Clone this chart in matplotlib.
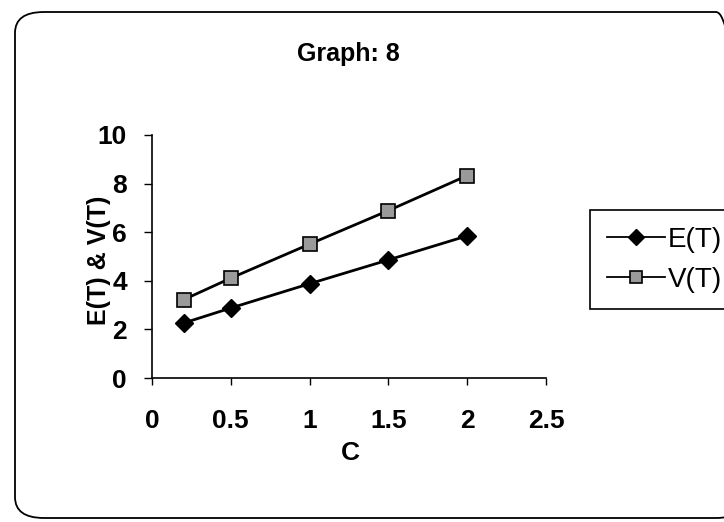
import matplotlib
matplotlib.use("Agg")
import matplotlib.pyplot as plt
from matplotlib.patches import FancyBboxPatch

# values of C and the two curves
C_VALUES = [0.2, 0.5, 1.0, 1.5, 2.0]
E_T = [2.26, 2.88, 3.88, 4.86, 5.85]
V_T = [3.22, 4.11, 5.51, 6.89, 8.33]

X_TICKS = [0, 0.5, 1, 1.5, 2, 2.5]
X_TICK_LABELS = ["0", "0.5", "1", "1.5", "2", "2.5"]
Y_TICKS = [0, 2, 4, 6, 8, 10]

plt.rcParams.update({
    "font.family": ["Liberation Sans", "DejaVu Sans"],
    "font.size": 13,
    "axes.linewidth": 1.2,
    "xtick.major.width": 1.0,
    "ytick.major.width": 1.0,
    "xtick.major.size": 5,
    "ytick.major.size": 6,
})


def draw():
    fig = plt.figure(figsize=(7.24, 5.22), dpi=100)

    # chart-area border with rounded corners
    border = FancyBboxPatch((15 / 724, 4 / 522), 730 / 724, 506 / 522,
                            boxstyle="round,pad=0,rounding_size=0.04",
                            transform=fig.transFigure, fill=False,
                            edgecolor="black", linewidth=1.3, clip_on=False)
    fig.patches.append(border)

    ax = fig.add_axes([152 / 724, (522 - 378) / 522,
                       (546 - 152) / 724, (378 - 135) / 522])

    ax.plot(C_VALUES, E_T, color="black", linewidth=2, marker="D",
            markersize=9, markerfacecolor="black", markeredgecolor="black",
            label="E(T)")
    ax.plot(C_VALUES, V_T, color="black", linewidth=2, marker="s",
            markersize=10, markerfacecolor="#9a9a9a", markeredgecolor="black",
            markeredgewidth=1.2, label="V(T)")

    ax.set_xlim(0, 2.5)
    ax.set_ylim(0, 10)
    ax.set_xticks(X_TICKS)
    ax.set_xticklabels(X_TICK_LABELS)
    ax.set_yticks(Y_TICKS)
    for lbl in ax.get_xticklabels() + ax.get_yticklabels():
        lbl.set_fontweight("bold")
        lbl.set_fontsize(19)
    ax.tick_params(axis="x", pad=17)
    ax.tick_params(axis="y", pad=12)
    ax.spines["top"].set_visible(False)
    ax.spines["right"].set_visible(False)

    fig.text(348 / 724, 1 - 54 / 522, "Graph: 8", ha="center", va="center",
             fontsize=18, fontweight="bold")
    fig.text(350 / 724, 1 - 453 / 522, "C", ha="center", va="center",
             fontsize=19, fontweight="bold")
    fig.text(99 / 724, 1 - 260 / 522, "E(T) & V(T)", ha="center",
             va="center", rotation=90, fontsize=18, fontweight="bold")

    leg = fig.legend(loc="upper left", bbox_to_anchor=(590 / 724, 1 - 210 / 522),
                     fontsize=20, handlelength=2.1, handletextpad=0.1,
                     borderpad=0.6, borderaxespad=0, labelspacing=0.5,
                     fancybox=False, framealpha=1, edgecolor="black")
    leg.get_frame().set_linewidth(1.2)
    for line in leg.get_lines():
        line.set_linewidth(1.3)
        line.set_markersize(8)

    fig.savefig("out.png", dpi=100)
    plt.close(fig)


if __name__ == "__main__":
    draw()
